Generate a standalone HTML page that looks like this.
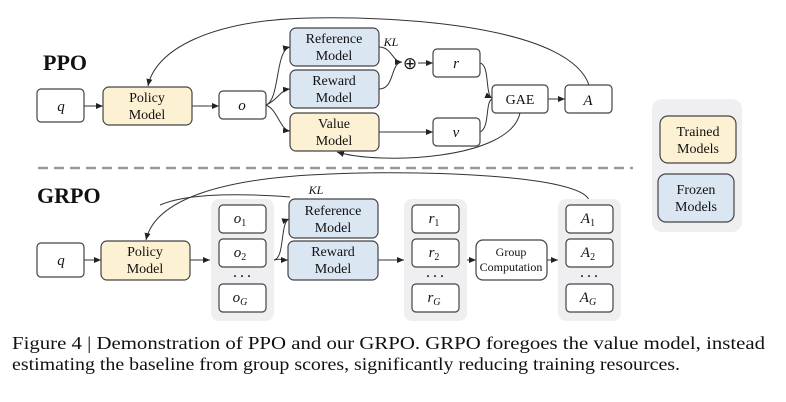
<!DOCTYPE html>
<html><head><meta charset="utf-8"><style>
html,body{margin:0;padding:0;background:#fff;}
svg{display:block;font-family:"Liberation Serif",serif;}
</style></head><body>
<svg width="786" height="402" viewBox="0 0 786 402" xmlns="http://www.w3.org/2000/svg">
<defs>
<marker id="ar" markerWidth="8" markerHeight="8" refX="7" refY="4" orient="auto" markerUnits="userSpaceOnUse">
<path d="M0,1 L7,4 L0,7 z" fill="#222"/></marker>
</defs>
<g stroke="#333" stroke-width="1" fill="none">
<path d="M84,106 L103,106" marker-end="url(#ar)"/>
<path d="M192,106 L219,106" marker-end="url(#ar)"/>
<path d="M266,105 C280,100 275,50 290,47" marker-end="url(#ar)"/>
<path d="M266,105 C278,100 280,90 290,89" marker-end="url(#ar)"/>
<path d="M266,105 C278,110 280,130 290,131" marker-end="url(#ar)"/>
<path d="M379,47 C392,47 392,62 402,62" marker-end="url(#ar)"/>
<path d="M379,89 C395,89 390,63 402,62"/>
<path d="M418,63 L433,63" marker-end="url(#ar)"/>
<path d="M379,132 L433,132" marker-end="url(#ar)"/>
<path d="M480,63 C490,65 485,95 492,98" marker-end="url(#ar)"/>
<path d="M480,132 C490,128 485,102 492,99"/>
<path d="M548,99 L565,99" marker-end="url(#ar)"/>
<path d="M589,85 C570,30 420,16 310,18 C210,20 155,50 148,86" marker-end="url(#ar)"/>
<path d="M520,113 C510,160 380,165 337,152" marker-end="url(#ar)"/>
<path d="M84,260 L101,260" marker-end="url(#ar)"/>
<path d="M190,260 L210,260" marker-end="url(#ar)"/>
<path d="M274,260 C285,258 280,222 289,219" marker-end="url(#ar)"/>
<path d="M274,260 C280,258 282,260 288,260" marker-end="url(#ar)"/>
<path d="M378,260 L404,260" marker-end="url(#ar)"/>
<path d="M467,260 L476,260" marker-end="url(#ar)"/>
<path d="M547,260 L558,260" marker-end="url(#ar)"/>
<path d="M589,200 C580,175 420,170 330,174 C220,178 155,200 146,240" marker-end="url(#ar)"/>
<path d="M290,197 C250,194 190,192 160,205"/>
</g>
<line x1="38" y1="168" x2="633" y2="168" stroke="#999" stroke-width="2.5" stroke-dasharray="10,6"/>
<rect x="211" y="199" width="63" height="122" rx="8" fill="#efeff1"/>
<rect x="404" y="199" width="63" height="122" rx="8" fill="#efeff1"/>
<rect x="558" y="199" width="63" height="122" rx="8" fill="#efeff1"/>
<rect x="652" y="99" width="90" height="133" rx="10" fill="#efeff1"/>
<g stroke="#444" stroke-width="1.2">
<rect x="37" y="89" width="47" height="33" rx="4" fill="#fff"/>
<rect x="103" y="87" width="89" height="38" rx="6" fill="#fdf1d3"/>
<rect x="219" y="91" width="47" height="28" rx="4" fill="#fff"/>
<rect x="290" y="28" width="89" height="38" rx="6" fill="#dbe6f3"/>
<rect x="290" y="70" width="89" height="38" rx="6" fill="#dbe6f3"/>
<rect x="290" y="113" width="89" height="38" rx="6" fill="#fdf1d3"/>
<rect x="433" y="49" width="47" height="28" rx="4" fill="#fff"/>
<rect x="433" y="118" width="47" height="28" rx="4" fill="#fff"/>
<rect x="492" y="85" width="56" height="28" rx="4" fill="#fff"/>
<rect x="565" y="85" width="47" height="28" rx="4" fill="#fff"/>
<rect x="660" y="116" width="76" height="47" rx="8" fill="#fdf1d3"/>
<rect x="658" y="174" width="76" height="48" rx="8" fill="#dbe6f3"/>
<rect x="37" y="243" width="47" height="34" rx="4" fill="#fff"/>
<rect x="101" y="241" width="89" height="39" rx="6" fill="#fdf1d3"/>
<rect x="219" y="205" width="47" height="28" rx="4" fill="#fff"/>
<rect x="219" y="239" width="47" height="28" rx="4" fill="#fff"/>
<rect x="219" y="284" width="47" height="28" rx="4" fill="#fff"/>
<rect x="289" y="199" width="89" height="39" rx="6" fill="#dbe6f3"/>
<rect x="288" y="241" width="90" height="39" rx="6" fill="#dbe6f3"/>
<rect x="412" y="205" width="47" height="28" rx="4" fill="#fff"/>
<rect x="412" y="239" width="47" height="28" rx="4" fill="#fff"/>
<rect x="412" y="284" width="47" height="28" rx="4" fill="#fff"/>
<rect x="476" y="240" width="71" height="40" rx="7" fill="#fff"/>
<rect x="566" y="205" width="47" height="28" rx="4" fill="#fff"/>
<rect x="566" y="239" width="47" height="28" rx="4" fill="#fff"/>
<rect x="566" y="284" width="47" height="28" rx="4" fill="#fff"/>
</g>
<g font-size="14" fill="#111" text-anchor="middle">
<text x="43" y="70" font-size="22" font-weight="bold" text-anchor="start">PPO</text>
<text x="37" y="203" font-size="22" font-weight="bold" text-anchor="start">GRPO</text>
<text x="147" y="102">Policy</text><text x="147" y="119">Model</text>
<text x="334" y="43">Reference</text><text x="334" y="60">Model</text>
<text x="334" y="85">Reward</text><text x="334" y="102">Model</text>
<text x="334" y="128">Value</text><text x="334" y="145">Model</text>
<text x="520" y="104">GAE</text>
<text x="698" y="136">Trained</text><text x="698" y="153">Models</text>
<text x="696" y="194">Frozen</text><text x="696" y="211">Models</text>
<text x="145" y="256">Policy</text><text x="145" y="273">Model</text>
<text x="333" y="215">Reference</text><text x="333" y="232">Model</text>
<text x="333" y="256">Reward</text><text x="333" y="273">Model</text>
<text x="511" y="256" font-size="12">Group</text><text x="511" y="271" font-size="12">Computation</text>
<g font-style="italic" font-size="15">
<text x="61" y="111">q</text><text x="242" y="110">o</text>
<text x="456" y="68">r</text><text x="456" y="137">v</text>
<text x="588" y="105">A</text>
<text x="391" y="46" font-size="12">KL</text>
<text x="316" y="194" font-size="12">KL</text>
<text x="61" y="265">q</text>
<text x="240" y="223">o<tspan font-size="10" dy="3" font-style="normal">1</tspan></text>
<text x="240" y="257">o<tspan font-size="10" dy="3" font-style="normal">2</tspan></text>
<text x="240" y="302">o<tspan font-size="10" dy="3">G</tspan></text>
<text x="434" y="223">r<tspan font-size="10" dy="3" font-style="normal">1</tspan></text>
<text x="434" y="257">r<tspan font-size="10" dy="3" font-style="normal">2</tspan></text>
<text x="434" y="302">r<tspan font-size="10" dy="3">G</tspan></text>
<text x="588" y="223">A<tspan font-size="10" dy="3" font-style="normal">1</tspan></text>
<text x="588" y="257">A<tspan font-size="10" dy="3" font-style="normal">2</tspan></text>
<text x="588" y="302">A<tspan font-size="10" dy="3">G</tspan></text>
</g>
<text x="410" y="69" font-size="17">⊕</text>
<text x="242" y="280" font-size="12" font-weight="bold">· · ·</text>
<text x="435" y="280" font-size="12" font-weight="bold">· · ·</text>
<text x="589" y="280" font-size="12" font-weight="bold">· · ·</text>
</g>
<g font-size="18" fill="#111">
<text x="12" y="349" textLength="753" lengthAdjust="spacingAndGlyphs">Figure 4 | Demonstration of PPO and our GRPO. GRPO foregoes the value model, instead</text>
<text x="12" y="370" textLength="668" lengthAdjust="spacingAndGlyphs">estimating the baseline from group scores, significantly reducing training resources.</text>
</g>
</svg>
</body></html>
